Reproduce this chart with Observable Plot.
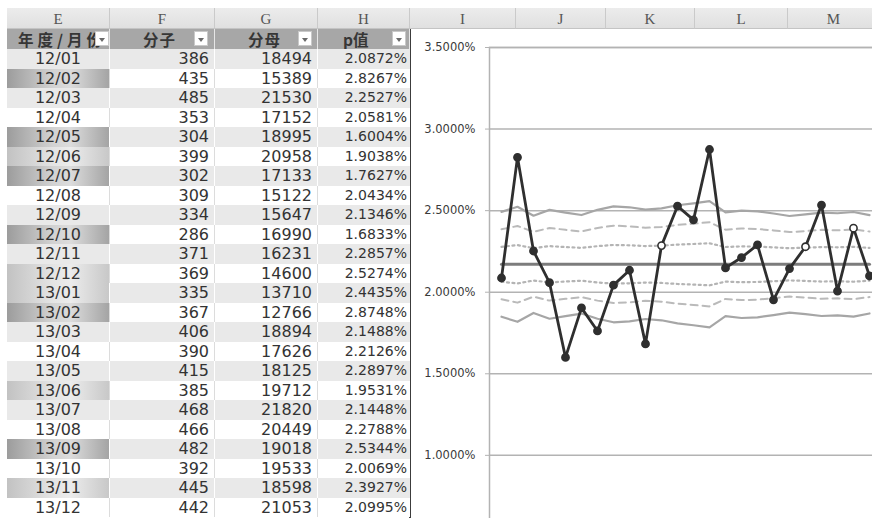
<!DOCTYPE html>
<html>
<head>
<meta charset="utf-8">
<script src="https://cdn.jsdelivr.net/npm/d3@7"></script>
<script src="https://cdn.jsdelivr.net/npm/@observablehq/plot@0.6"></script>
<style>
html,body{margin:0;padding:0;background:#fff;}
#sheet{position:relative;width:872px;height:518px;overflow:hidden;background:#fff;font-family:"DejaVu Sans",sans-serif;color:#333;}
.letter{position:absolute;top:8px;height:21px;line-height:22px;text-align:center;font-family:"Liberation Serif",serif;font-size:15px;color:#555;background:linear-gradient(#ececec,#e0e0e0);border-right:1px solid #cacaca;border-bottom:1px solid #c4c4c4;box-sizing:border-box;}
.hdr{position:absolute;top:29px;height:20px;background:#a7a7a7;border-right:1px solid #e6e6e6;box-sizing:border-box;white-space:nowrap;font-family:"Noto Sans CJK SC",sans-serif;font-weight:bold;font-size:15.5px;color:#363636;}
.hdr span{position:absolute;top:0;line-height:20px;}
.btn{position:absolute;top:2px;width:14px;height:15px;background:#fff;border:1px solid #c9c9c9;box-sizing:border-box;z-index:2;}
.btn::after{content:"";position:absolute;left:3px;top:6px;border-left:3.5px solid transparent;border-right:3.5px solid transparent;border-top:4px solid #6a6a6a;}
.cell{position:absolute;box-sizing:border-box;overflow:hidden;white-space:nowrap;color:#333;}
#chart{position:absolute;left:412px;top:29px;width:460px;height:489px;overflow:hidden;background:#fff;}
#chart svg{max-width:none !important;}
#divider{position:absolute;left:409px;top:29px;width:2px;height:489px;background:#3c3c3c;}
</style>
</head>
<body>
<div id="sheet">
  <div id="chart"></div>
  <div id="divider"></div>
</div>
<script>
// ---------- data ----------
const months = ["12/01","12/02","12/03","12/04","12/05","12/06","12/07","12/08","12/09","12/10","12/11","12/12",
                "13/01","13/02","13/03","13/04","13/05","13/06","13/07","13/08","13/09","13/10","13/11","13/12"];
const numerators = [386,435,485,353,304,399,302,309,334,286,371,369,335,367,406,390,415,385,468,466,482,392,445,442];
const denominators = [18494,15389,21530,17152,18995,20958,17133,15122,15647,16990,16231,14600,
                      13710,12766,18894,17626,18125,19712,21820,20449,19018,19533,18598,21053];
const pValues = [2.0872,2.8267,2.2527,2.0581,1.6004,1.9038,1.7627,2.0434,2.1346,1.6833,2.2857,2.5274,
                 2.4435,2.8748,2.1488,2.2126,2.2897,1.9531,2.1448,2.2788,2.5344,2.0069,2.3927,2.0995];
const centerLine = 2.1711;
const ucl3 = [2.4926,2.5235,2.4691,2.5049,2.4883,2.4731,2.5051,2.5266,2.5206,2.5065,2.5143,2.5329,
              2.5445,2.5581,2.4892,2.5004,2.4959,2.4825,2.4671,2.4769,2.4881,2.4839,2.4917,2.4724];
const ucl2 = [2.3854,2.4061,2.3697,2.3937,2.3826,2.3724,2.3938,2.4081,2.4041,2.3947,2.3999,2.4123,
              2.4200,2.4291,2.3832,2.3906,2.3876,2.3787,2.3684,2.3749,2.3825,2.3797,2.3848,2.3720];
const ucl1 = [2.2783,2.2886,2.2704,2.2824,2.2768,2.2718,2.2824,2.2896,2.2876,2.2829,2.2855,2.2917,
              2.2956,2.3001,2.2771,2.2809,2.2794,2.2749,2.2698,2.2730,2.2768,2.2754,2.2780,2.2715];
const lcl1 = [2.0639,2.0536,2.0718,2.0598,2.0654,2.0704,2.0598,2.0526,2.0546,2.0593,2.0567,2.0505,
              2.0466,2.0421,2.0651,2.0613,2.0629,2.0673,2.0724,2.0692,2.0654,2.0668,2.0642,2.0707];
const lcl2 = [1.9568,1.9361,1.9725,1.9485,1.9596,1.9698,1.9484,1.9341,1.9381,1.9475,1.9423,1.9299,
              1.9222,1.9131,1.9590,1.9516,1.9546,1.9635,1.9738,1.9673,1.9597,1.9625,1.9574,1.9702];
const lcl3 = [1.8496,1.8187,1.8731,1.8373,1.8539,1.8691,1.8371,1.8156,1.8216,1.8357,1.8279,1.8093,
              1.7977,1.7841,1.8530,1.8418,1.8463,1.8597,1.8751,1.8653,1.8541,1.8583,1.8505,1.8698];
const hollowMonths = ["12/11","13/08","13/11"];
const shadeLevel = [0,2,0,0,2,1,2,0,0,2,0,1,1,2,0,0,0,1,0,0,2,0,1,0];
const columnLetters = ["E","F","G","H","I","J","K","L","M"];
const headers = ["年度/月份","分子","分母","p值"];
const yTicks = [1,1.5,2,2.5,3,3.5];

// ---------- spreadsheet layout ----------
const edges = [7,110,215,318,410,516,606,695,788,880];
const sheet = d3.select("#sheet");

sheet.selectAll("div.letter").data(columnLetters).join("div")
  .attr("class","letter")
  .style("left",(d,i)=>edges[i]+"px")
  .style("width",(d,i)=>(edges[i+1]-edges[i])+"px")
  .text(d=>d);

const hdrLeft = [11, 33, 33, 25];
const hdrSpacing = ["4px","1px","1px","0px"];
const hdr = sheet.selectAll("div.hdr").data(headers).join("div")
  .attr("class","hdr")
  .style("left",(d,i)=>edges[i]+"px")
  .style("width",(d,i)=>(edges[i+1]-edges[i])+"px");
hdr.append("span")
  .style("left",(d,i)=>hdrLeft[i]+"px")
  .style("letter-spacing",(d,i)=>hdrSpacing[i])
  .text(d=>d);
const btnRight = [0,6,5,3];
hdr.append("div").attr("class","btn").style("right",(d,i)=>btnRight[i]+"px");

const rowY = d3.scaleBand().domain(months).range([49,517]);
const tableRows = months.map((m,i)=>({month:m, num:numerators[i], den:denominators[i], p:pValues[i], shade:shadeLevel[i], i}));
const cols = [
  {key:"month", fmt:d=>d, align:"center", size:16, pr:0},
  {key:"num", fmt:d=>String(d), align:"right", size:16, pr:5},
  {key:"den", fmt:d=>String(d), align:"right", size:16, pr:5},
  {key:"p", fmt:d=>d.toFixed(4)+"%", align:"right", size:14, pr:3}
];
const shadeBg = [
  null,
  "linear-gradient(to right,#c2c2c2 0%,#e4e4e4 45%,#ececec 62%,#c8c8c8 100%)",
  "linear-gradient(to right,#9c9c9c 0%,#d2d2d2 45%,#dcdcdc 62%,#a4a4a4 100%)"
];
tableRows.forEach(r=>{
  const grey = r.i % 2 === 0;
  cols.forEach((c,ci)=>{
    let bg = grey ? "#e9e9e9" : "#ffffff";
    if (ci===0 && r.shade) bg = shadeBg[r.shade];
    sheet.append("div").attr("class","cell")
      .style("left",edges[ci]+"px")
      .style("width",(edges[ci+1]-edges[ci])+"px")
      .style("top",rowY(r.month)+"px")
      .style("height",rowY.bandwidth()+"px")
      .style("line-height",rowY.bandwidth()+"px")
      .style("background",bg)
      .style("border-right", ci===3 ? "none" : (grey ? "1px solid #ffffff" : "1px solid #dcdcdc"))
      .style("text-align",c.align)
      .style("padding-right",c.pr+"px")
      .style("font-size",c.size+"px")
      .text(c.fmt(r[c.key]));
  });
});

// ---------- chart ----------
const rows = months.map((m,i)=>({month:m, p:pValues[i], c:centerLine,
  u3:ucl3[i], u2:ucl2[i], u1:ucl1[i], l1:lcl1[i], l2:lcl2[i], l3:lcl3[i],
  hollow: hollowMonths.includes(m)}));

const lim = (key, stroke, width, dash) => Plot.line(rows, {x:"month", y:key, stroke, strokeWidth:width, strokeDasharray:dash});

const chart = Plot.plot({
  width:468, height:589,
  marginLeft:77, marginRight:0, marginTop:18, marginBottom:0,
  x:{type:"band", domain:months, padding:0, axis:null},
  y:{domain:[0,3.5], axis:null},
  style:{background:"transparent", fontFamily:"DejaVu Sans, sans-serif", fontSize:"11.5px", color:"#333", maxWidth:"none"},
  marks:[
    Plot.ruleY(yTicks, {stroke:"#b3b3b3", strokeWidth:1.5}),
    Plot.frame({stroke:"#b3b3b3", strokeWidth:1.5}),
    Plot.axisY({ticks:yTicks, tickFormat:d=>d.toFixed(4)+"%", tickSize:4, tickPadding:10, stroke:"#b3b3b3", fill:"#3a3a3a", label:null}),
    lim("u3","#a6a6a6",2.2),
    lim("l3","#a6a6a6",2.2),
    lim("u2","#bababa",2,"7,5"),
    lim("l2","#bababa",2,"7,5"),
    lim("u1","#b4b4b4",2.2,"2,3.5"),
    lim("l1","#b4b4b4",2.2,"2,3.5"),
    lim("c","#7c7c7c",3),
    Plot.line(rows, {x:"month", y:"p", stroke:"#2f2f2f", strokeWidth:2.8}),
    Plot.dot(rows, {x:"month", y:"p", r:3.6, fill:d=>d.hollow?"#ffffff":"#2f2f2f", stroke:"#2f2f2f", strokeWidth:1.6})
  ]
});
document.getElementById("chart").appendChild(chart);
</script>
</body>
</html>
